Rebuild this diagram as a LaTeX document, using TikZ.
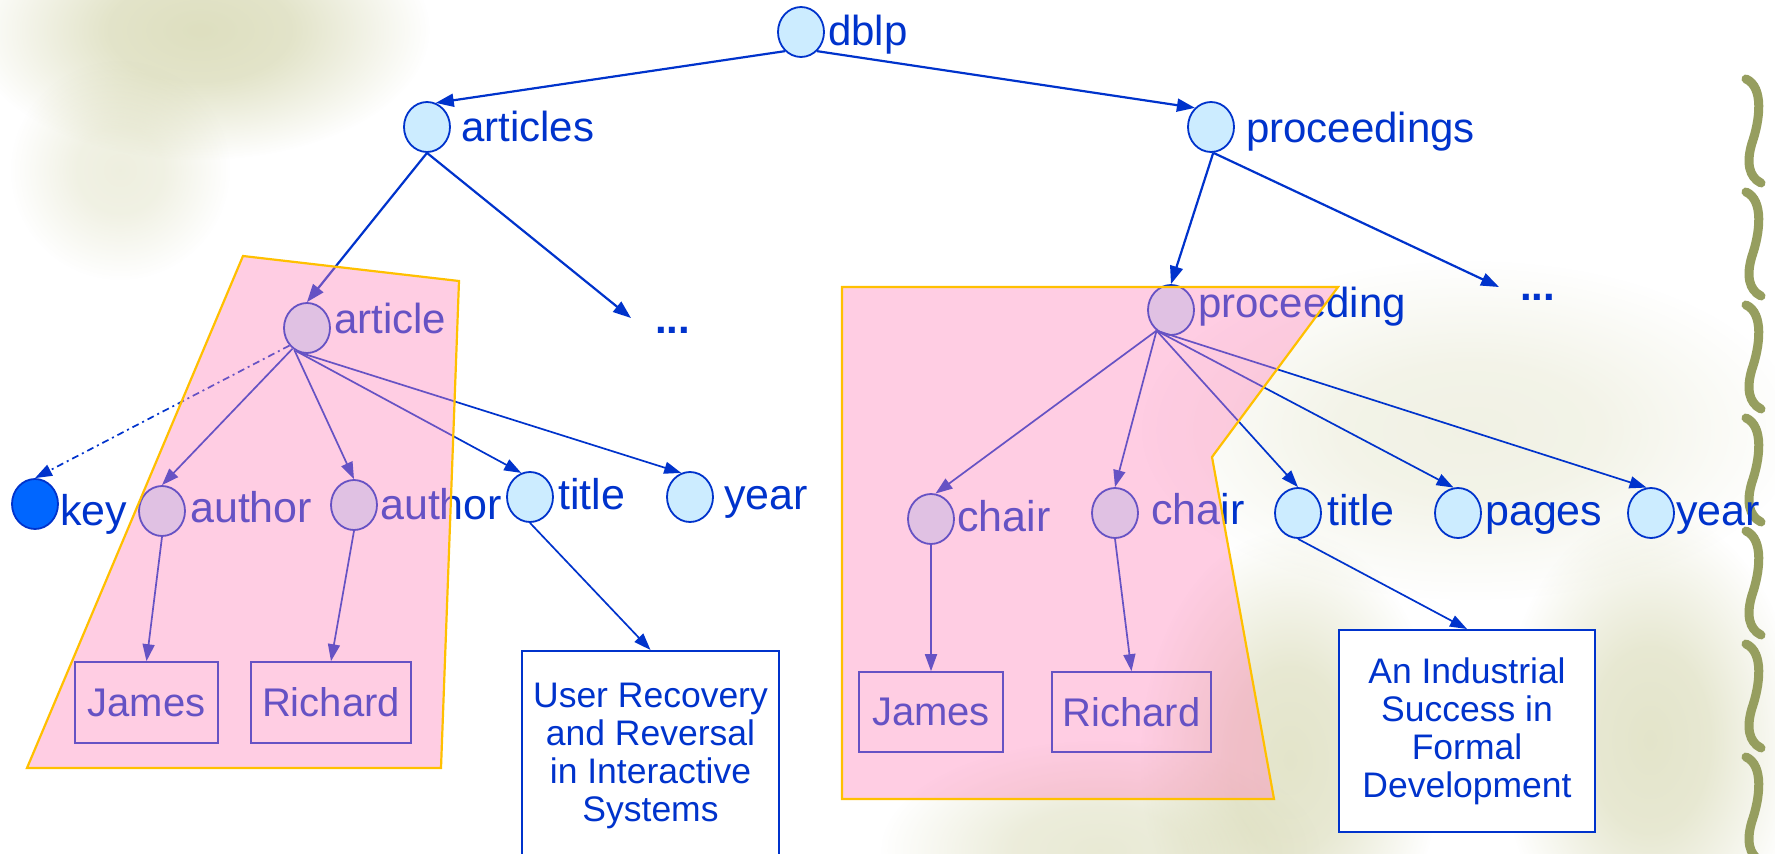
\documentclass[tikz,border=0pt]{standalone}
\usepackage{fontspec}
\setmainfont{Liberation Sans}
\usetikzlibrary{arrows.meta,shapes.geometric,fadings}
\definecolor{tblue}{HTML}{0033CC}
\definecolor{cfill}{HTML}{CCECFF}
\definecolor{keyfill}{HTML}{0066FF}
\definecolor{pinkov}{RGB}{255,130,185}
\definecolor{gold}{HTML}{FFC000}
\definecolor{bgol}{RGB}{200,202,150}
\definecolor{vinec}{RGB}{150,158,95}
\pgfdeclareradialshading{softblobshade}{\pgfpointorigin}{color(0pt)=(pgftransparent!0); color(10pt)=(pgftransparent!15); color(25pt)=(pgftransparent!100); color(50pt)=(pgftransparent!100)}
\pgfdeclarefading{softblob}{\pgfuseshading{softblobshade}}
\begin{document}
\begin{tikzpicture}[x=1pt,y=-1pt,
  nd/.style={ellipse, draw=tblue, fill=cfill, line width=1.8pt, minimum width=46pt, minimum height=50pt, inner sep=0pt},
  lbl/.style={anchor=base west, inner sep=0pt, text=tblue, font=\fontsize{42}{48}\selectfont},
  lbls/.style={lbl, font=\fontsize{43}{48}\selectfont},
  dots/.style={lbl, font=\bfseries\fontsize{42}{48}\selectfont},
  conntop/.style={draw=tblue, line width=2.2pt, -{Triangle[length=18pt,width=13pt]}},
  conn/.style={draw=tblue, line width=1.7pt, -{Triangle[length=17pt,width=12pt]}},
  namebox/.style={draw=tblue, line width=1.6pt, text=tblue, font=\fontsize{40}{46}\selectfont, inner sep=0pt},
  titlebox/.style={draw=tblue, fill=white, line width=2pt, text=tblue, font=\fontsize{35.5}{38}\selectfont, align=center, inner sep=0pt},
  pinkzone/.style={fill=pinkov, fill opacity=0.4, draw=gold, draw opacity=1, line width=2.2pt, line join=miter},
  blob/.style={fill=bgol, path fading=softblob}
]
\useasboundingbox[fill=white] (0,0) rectangle (1775,854);

% background decoration
\fill[blob, fill opacity=0.6] (200,30) ellipse [x radius=230pt, y radius=130pt];
\fill[blob, fill opacity=0.3] (120,170) ellipse [x radius=110pt, y radius=110pt];
\fill[blob, fill opacity=0.25] (1470,430) ellipse [x radius=330pt, y radius=170pt];
\fill[blob, fill opacity=0.5] (1290,760) ellipse [x radius=150pt, y radius=230pt];
\fill[blob, fill opacity=0.5] (1650,740) ellipse [x radius=150pt, y radius=230pt];
\fill[blob, fill opacity=0.4] (1100,850) ellipse [x radius=220pt, y radius=110pt];
\foreach \y in {75,188,...,753} {
  \draw[vinec, line width=9pt, line cap=round] (1746,\y+4) .. controls (1764,\y+12) and (1760,\y+45) .. (1752,\y+68) .. controls (1746,\y+88) and (1749,\y+102) .. (1761,\y+108);
}

% tree nodes
\node[nd] (dblp) at (801,32) {};
\node[nd] (articles) at (427,127) {};
\node[nd] (proceedings) at (1211,127) {};
\node[nd] (article) at (307,328) {};
\node[nd] (proceeding) at (1171,310) {};
\node[nd, fill=keyfill] (key) at (35,504) {};
\node[nd] (author1) at (162,511) {};
\node[nd] (author2) at (354,505) {};
\node[nd] (titleA) at (530,497) {};
\node[nd] (yearA) at (690,497) {};
\node[nd] (chair1) at (931,519) {};
\node[nd] (chair2) at (1115,513) {};
\node[nd] (titleB) at (1298,513) {};
\node[nd] (pages) at (1458,513) {};
\node[nd] (yearB) at (1651,513) {};

% labels
\node[lbl] (dblpL) at (828,45) {dblp};
\node[lbl] (articlesL) at (461,141) {articles};
\node[lbl] (proceedingsL) at (1246,142) {proceedings};
\node[lbl] (articleL) at (334,333) {article};
\node[lbl] (proceedingL) at (1198,317) {proceeding};
\node[lbls] (keyL) at (60,525) {key};
\node[lbls] (author1L) at (190,522) {author};
\node[lbls] (author2L) at (380,519) {author};
\node[lbls] (titleAL) at (558,509) {title};
\node[lbls] (yearAL) at (724,509) {year};
\node[lbls] (chair1L) at (957,531) {chair};
\node[lbls] (chair2L) at (1151,524) {chair};
\node[lbls] (titleBL) at (1327,525) {title};
\node[lbls] (pagesL) at (1485,525) {pages};
\node[lbls] (yearBL) at (1676,525) {year};
\node[dots] (dotsA) at (655,333) {...};
\node[dots] (dotsB) at (1520,300) {...};
\coordinate (dotsAtip) at (631,318);
\coordinate (dotsBtip) at (1499,287);

% leaf boxes
\node[namebox, minimum width=143pt, minimum height=81pt] (jamesA) at (146.5,702.5) {James};
\node[namebox, minimum width=160pt, minimum height=81pt] (richardA) at (331,702.5) {Richard};
\node[namebox, minimum width=144pt, minimum height=80pt] (jamesB) at (931,712) {James};
\node[namebox, minimum width=159pt, minimum height=80pt] (richardB) at (1131.5,712) {Richard};
\node[titlebox, minimum width=257pt, minimum height=209pt] (tbA) at (650.5,755.5) {User Recovery\\and Reversal\\in Interactive\\Systems};
\node[titlebox, minimum width=256pt, minimum height=202pt] (tbB) at (1467,731) {An Industrial\\Success in\\Formal\\Development};

% connectors
\draw[conntop] (dblp.230) -- (articles.70);
\draw[conntop] (dblp.310) -- (proceedings.130);
\draw[conntop] (articles.south) -- (article.north);
\draw[conntop] (articles.south) -- (dotsAtip);
\draw[conntop] (proceedings.275) -- (proceeding.north);
\draw[conntop] (proceedings.275) -- (dotsBtip);
\draw[conn, dash pattern=on 7pt off 4pt on 2pt off 4pt] (article.225) -- (key.north);
\draw[conn] (article.235) -- (author1.north);
\draw[conn] (article.240) -- (author2.north);
\draw[conn] (article.245) -- (titleA.110);
\draw[conn] (article.250) -- (yearA.110);
\draw[conn] (author1.south) -- (jamesA.north);
\draw[conn] (author2.south) -- (richardA.north);
\draw[conn] (titleA.south) -- (tbA.north);
\draw[conn] (proceeding.235) -- (chair1.80);
\draw[conn] (proceeding.235) -- (chair2.north);
\draw[conn] (proceeding.235) -- (titleB.north);
\draw[conn] (proceeding.235) -- (pages.100);
\draw[conn] (proceeding.235) -- (yearB.100);
\draw[conn] (chair1.south) -- (jamesB.north);
\draw[conn] (chair2.south) -- (richardB.north);
\draw[conn] (titleB.south) -- (tbB.north);

% highlighted fragments
\path[pinkzone] (243,256) -- (459,281) -- (441,768) -- (27,768) -- cycle;
\path[pinkzone] (842,287) -- (1338,287) -- (1212,457) -- (1274,799) -- (842,799) -- cycle;
\end{tikzpicture}
\end{document}
